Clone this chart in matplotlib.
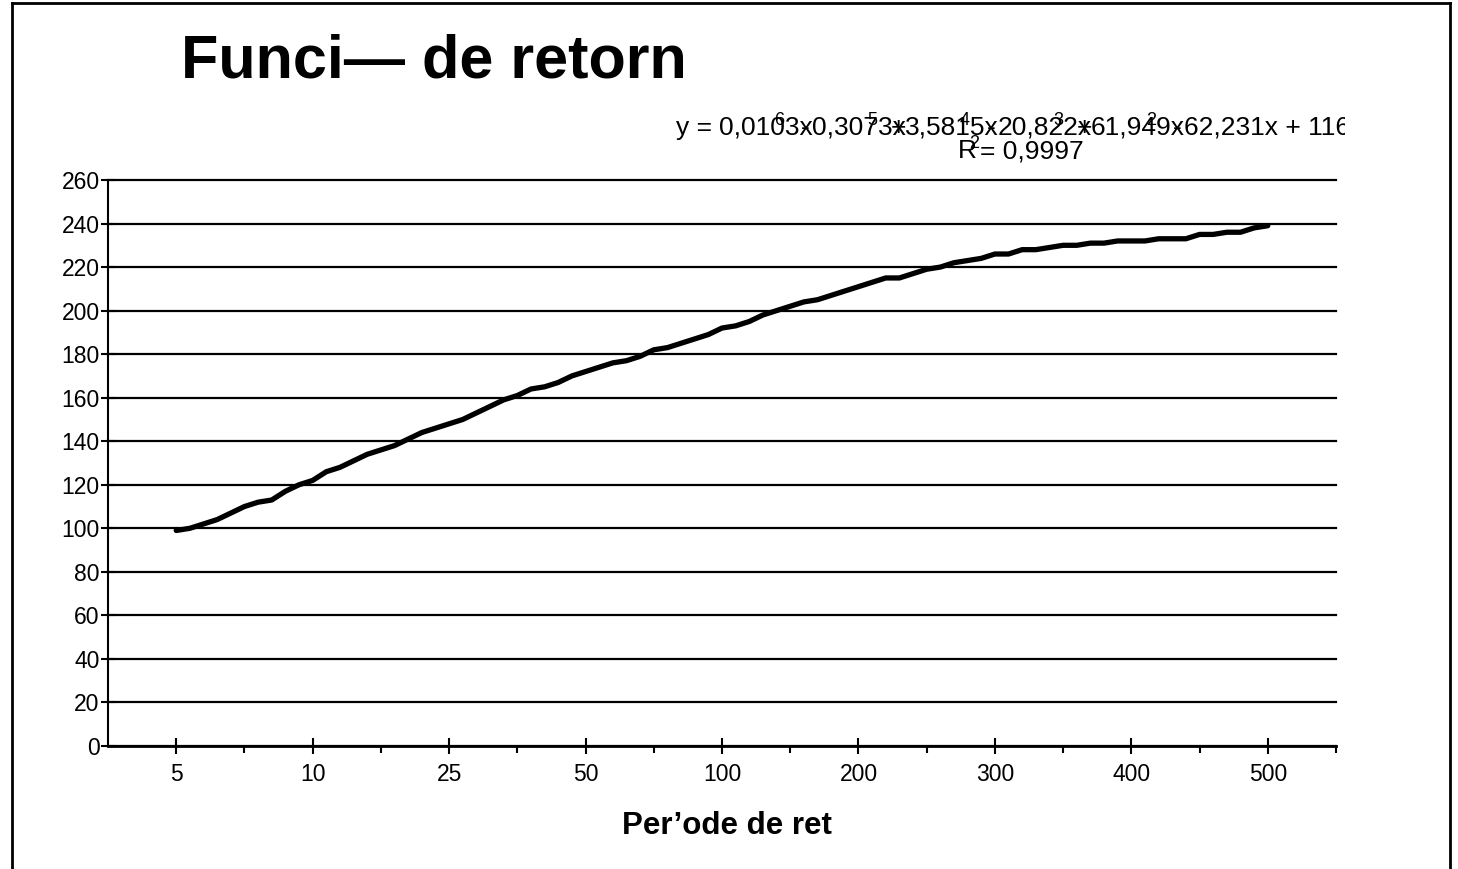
import matplotlib
matplotlib.use("Agg")
import matplotlib.pyplot as plt
from matplotlib.lines import Line2D
from matplotlib.transforms import Bbox

plt.rcParams['font.family'] = ['Liberation Sans', 'DejaVu Sans']

W, H = 1458, 869

# periodes de retorn (eix de categories) i valors de la funcio
period_labels = ["5", "10", "25", "50", "100", "200", "300", "400", "500"]
steps_per_label = 10
retorn = [99, 100, 102, 104, 107, 110, 112, 113, 117, 120,
          122, 126, 128, 131, 134, 136, 138, 141, 144, 146,
          148, 150, 153, 156, 159, 161, 164, 165, 167, 170,
          172, 174, 176, 177, 179, 182, 183, 185, 187, 189,
          192, 193, 195, 198, 200, 202, 204, 205, 207, 209,
          211, 213, 215, 215, 217, 219, 220, 222, 223, 224,
          226, 226, 228, 228, 229, 230, 230, 231, 231, 232,
          232, 232, 233, 233, 233, 235, 235, 236, 236, 238, 239]

# linia de tendencia polinomica (grau 6)
trend_coefs = ["0,0103", "0,3073", "3,5815", "20,822", "61,949", "62,231"]
trend_signs = ["-", "+", "-", "+", "-"]
trend_const = "116"
r2_text = "0,9997"

y_ticks = list(range(0, 261, 20))


def px(x, y):
    # pixel coords (top-left origin) -> figure fraction
    return x / W, 1 - y / H


fig = plt.figure(figsize=(W / 100, H / 100), dpi=100)
ax = fig.add_axes([108 / W, 1 - 746 / H, (1336 - 108) / W, (746 - 180) / H])

xs = [0.5 + k / steps_per_label for k in range(len(retorn))]
ax.plot(xs, retorn, color="black", lw=3.8, solid_joinstyle="round",
        solid_capstyle="round")

ax.set_xlim(0, len(period_labels))
ax.set_ylim(0, 260)
ax.set_yticks(y_ticks)
ax.set_yticklabels([str(v) for v in y_ticks], fontsize=16.5)
ax.set_xticks([i + 0.5 for i in range(len(period_labels))])
ax.set_xticklabels(period_labels, fontsize=16.5)
ax.set_xticks(range(1, len(period_labels) + 1), minor=True)

ax.tick_params(axis="x", which="major", direction="inout", length=11,
               width=1.5, pad=7)
ax.tick_params(axis="x", which="minor", direction="out", length=5, width=1.5)
ax.tick_params(axis="y", direction="inout", length=10, width=1.5, pad=1)

ax.grid(axis="y", color="black", lw=1.6)
for gl in ax.get_ygridlines():
    gl.set_clip_on(False)
ax.set_axisbelow(True)
for side in ["top", "right"]:
    ax.spines[side].set_visible(False)
ax.spines["left"].set_linewidth(1.5)
ax.spines["bottom"].set_linewidth(2)

# titol i etiqueta de l'eix
fig.text(*px(181, 78), "Funci\u2014 de retorn", fontsize=44,
         fontweight="bold", va="baseline", ha="left")
fig.text(*px(622, 834), "Per\u2019ode de ret", fontsize=22.5,
         fontweight="bold", va="baseline", ha="left")

# equacio de la linia de tendencia
clip = Bbox.from_extents(0, 0, 1345, H)
eq_size = 19
base1 = 135
fig.text(*px(676, base1), "y = ", fontsize=eq_size, va="baseline")
n = len(trend_coefs)
for i, c in enumerate(trend_coefs):
    x0 = 719 + 93 * i
    s = c + "x"
    if i == n - 1:
        s += " + " + trend_const
    t = fig.text(*px(x0, base1), s, fontsize=eq_size, va="baseline")
    t.set_clip_box(clip)
    t.set_clip_on(True)
    if i < n - 1:
        fig.text(*px(x0 + 55, base1 - 10), str(n - i), fontsize=13,
                 va="baseline")
        fig.text(*px(x0 + 86, base1), trend_signs[i], fontsize=eq_size,
                 va="baseline", ha="center")

base2 = 158
fig.text(*px(958, base2), "R", fontsize=eq_size, va="baseline")
fig.text(*px(969, base2 - 10), "2", fontsize=13, va="baseline")
fig.text(*px(980, base2), "= " + r2_text, fontsize=eq_size, va="baseline")

# marc del grafic
for (x1, y1, x2, y2) in [(12, 3, 1450, 3), (12, 3, 12, H), (1450, 3, 1450, H)]:
    fig.add_artist(Line2D([x1 / W, x2 / W], [1 - y1 / H, 1 - y2 / H],
                          color="black", lw=2, transform=fig.transFigure))

fig.savefig("out.png", dpi=100)
